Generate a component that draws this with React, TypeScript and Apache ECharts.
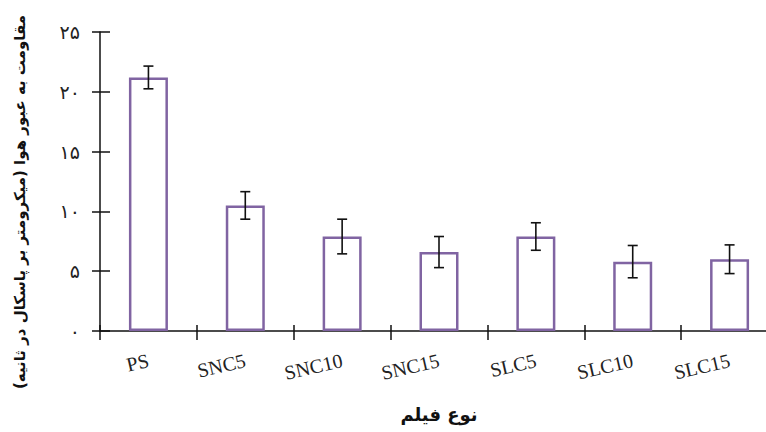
import React, { useEffect, useRef } from "react";
import * as echarts from "echarts";

const categories = ["PS", "SNC5", "SNC10", "SNC15", "SLC5", "SLC10", "SLC15"];
const values = [21.2, 10.5, 7.9, 6.6, 7.9, 5.8, 6.0];
const errors = [0.95, 1.15, 1.45, 1.3, 1.15, 1.35, 1.2];
const yTickLabels: Record<string, string> = {
  "0": "۰",
  "5": "۵",
  "10": "۱۰",
  "15": "۱۵",
  "20": "۲۰",
  "25": "۲۵",
};
const yTitle = "مقاومت به عبور هوا (میکرومتر بر پاسکال در ثانیه)";
const xTitle = "نوع فیلم";

export default function App() {
  const ref = useRef<HTMLDivElement>(null);
  useEffect(() => {
    if (!ref.current) return;
    const chart = echarts.init(ref.current, null, { renderer: "svg" });
    const errData = values.map((v, i) => [i, v - errors[i], v + errors[i]]);
    const axisLine = { show: true, lineStyle: { color: "#111", width: 1.5 } };
    chart.setOption({
      animation: false,
      backgroundColor: "#fff",
      grid: { left: 100, top: 32, width: 678, bottom: 101, containLabel: false, outerBoundsMode: "none" },
      xAxis: [
        {
          type: "category",
          data: categories,
          axisLine,
          axisTick: { show: true, inside: false, length: 9, lineStyle: { color: "#111", width: 1.5 } },
          axisLabel: {
            rotate: 13,
            margin: 29,
            fontFamily: "Liberation Serif",
            fontSize: 20,
            color: "#222",
          },
          name: xTitle,
          nameLocation: "middle",
          nameGap: 74,
          nameTextStyle: { fontFamily: "DejaVu Sans", fontWeight: "bold", fontSize: 18, color: "#111" },
        },
        {
          type: "category",
          data: categories,
          position: "bottom",
          axisLine: { show: false },
          axisTick: { show: true, inside: true, length: 6, lineStyle: { color: "#111", width: 1.5 } },
          axisLabel: { show: false },
        },
      ],
      yAxis: [
        {
          type: "value",
          min: 0,
          max: 25,
          interval: 5,
          axisLine,
          splitLine: { show: false },
          axisTick: { show: true, inside: false, length: 8, lineStyle: { color: "#111", width: 1.5 } },
          axisLabel: {
            margin: 20,
            fontFamily: "DejaVu Sans",
            fontSize: 19,
            color: "#222",
            formatter: (v: number) => yTickLabels[String(v)] ?? String(v),
          },
        },
        {
          type: "value",
          min: 0,
          max: 25,
          interval: 5,
          position: "left",
          axisLine: { show: false },
          splitLine: { show: false },
          axisTick: { show: true, inside: true, length: 10, lineStyle: { color: "#111", width: 1.5 } },
          axisLabel: { show: false },
        },
      ],
      series: [
        {
          type: "bar",
          data: values,
          barWidth: 39,
          itemStyle: { color: "#ffffff", borderColor: "#8064A2", borderWidth: 2.5 },
        },
        {
          type: "custom",
          data: errData,
          z: 10,
          renderItem: (params: any, api: any) => {
            const x = api.value(0);
            const lo = api.coord([x, api.value(1)]);
            const hi = api.coord([x, api.value(2)]);
            const half = 5;
            const style = { stroke: "#111", lineWidth: 1.6 };
            return {
              type: "group",
              children: [
                { type: "line", shape: { x1: hi[0], y1: hi[1], x2: lo[0], y2: lo[1] }, style },
                { type: "line", shape: { x1: hi[0] - half, y1: hi[1], x2: hi[0] + half, y2: hi[1] }, style },
                { type: "line", shape: { x1: lo[0] - half, y1: lo[1], x2: lo[0] + half, y2: lo[1] }, style },
              ],
            };
          },
        },
      ],
      graphic: [
        {
          type: "text",
          x: 20,
          y: 202,
          rotation: Math.PI / 2,
          style: {
            text: yTitle,
            fontFamily: "DejaVu Sans",
            fontWeight: "bold",
            fontSize: 15,
            fill: "#111",
            textAlign: "center",
            textVerticalAlign: "middle",
          },
        },
      ],
    });
    return () => chart.dispose();
  }, []);
  return <div ref={ref} style={{ width: 766, height: 432, position: "fixed", left: 0, top: 0 }} />;
}
